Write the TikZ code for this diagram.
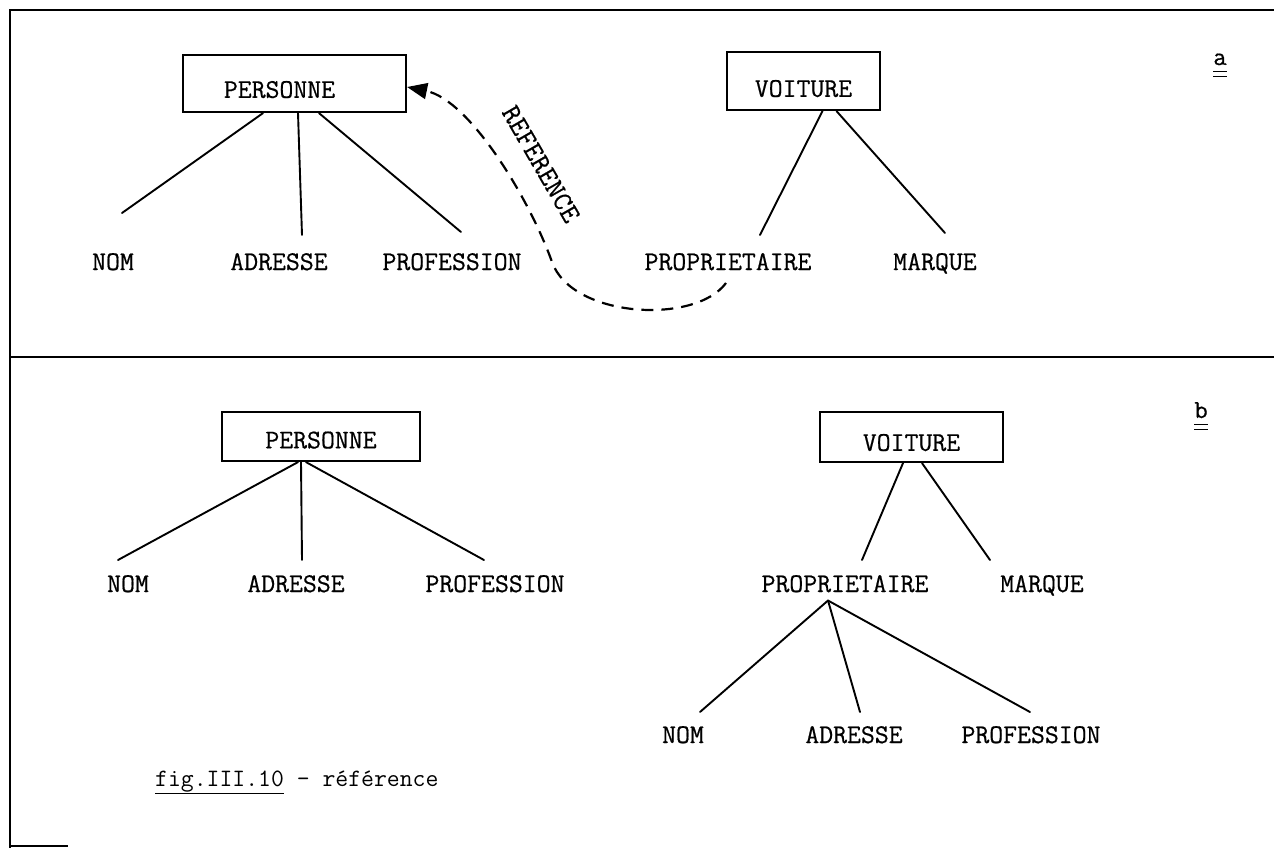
\documentclass[tikz,border=0pt]{standalone}
\usepackage{fontspec}
\newfontfamily\typer{Latin Modern Mono}[FakeBold=0.6]
\usetikzlibrary{arrows.meta}
\begin{document}
\begin{tikzpicture}[x=1pt,y=-1pt,
  tt/.style={font=\fontsize{#1}{#1}\selectfont\typer},
  lbl/.style={tt=27, inner sep=0pt, anchor=base},
  box/.style={draw, line width=2.2pt, rectangle, inner sep=0pt, tt=27},
  branch/.style={line width=1.9pt, line cap=round},
  frame/.style={line width=2.8pt},
  refline/.style={line width=2.2pt, dash pattern=on 12pt off 8pt},
  tag/.style={tt=26, inner sep=0pt, anchor=base},
  tagline/.style={line width=1.6pt}]
\useasboundingbox (0,0) rectangle (1274,848);

% frame and panel divider
\draw[frame] (1274,10) -- (10,10) -- (10,848);
\draw[frame] (10,357) -- (1274,357);
\draw[frame] (10,846) -- (68,846);

% ---------- panel a ----------
\node[box, minimum width=223pt, minimum height=57pt] (persA) at (294.5,83.5)
  {\rule{0pt}{29pt}PERSONNE\hspace*{30pt}};
\node[box, minimum width=153pt, minimum height=58pt] (voitA) at (803.5,81)
  {\rule{0pt}{32pt}VOITURE};

\node[lbl] (nomA)  at (113,270) {NOM};
\node[lbl] (adrA)  at (279,270) {ADRESSE};
\node[lbl] (profA) at (452,270) {PROFESSION};
\node[lbl] (propA) at (728,270) {PROPRIETAIRE};
\node[lbl] (marqA) at (935,270) {MARQUE};

\coordinate (nomAt)  at (122,213);
\coordinate (adrAt)  at (302,235);
\coordinate (profAt) at (461,232);
\coordinate (propAt) at (760,235);
\coordinate (marqAt) at (945,233);

\draw[branch] ([xshift=-31.5pt]persA.south) -- (nomAt);
\draw[branch] ([xshift=3.5pt]persA.south) -- (adrAt);
\draw[branch] ([xshift=24.5pt]persA.south) -- (profAt);
\draw[branch] ([xshift=19pt]voitA.south) -- (propAt);
\draw[branch] ([xshift=33pt]voitA.south) -- (marqAt);

% reference link
\coordinate (refStart) at (726,283);
\draw[refline, -{Triangle[length=20pt,width=16pt]}]
  (refStart) .. controls (695,325) and (572,318) .. (552,262)
             .. controls (530,200) and (470,100) .. ([yshift=-3.5pt]persA.east);
\node[tt=28, inner sep=0pt, rotate=-60] (refLbl) at (541,164) {REFERENCE};

\node[tag] (tagA) at (1220,65) {a};
\draw[tagline] ([yshift=-6pt]tagA.south west) -- ([yshift=-6pt]tagA.south east);
\draw[tagline] ([yshift=-11pt]tagA.south west) -- ([yshift=-11pt]tagA.south east);

% ---------- panel b ----------
\node[box, minimum width=198pt, minimum height=49pt] (persB) at (321,436.5)
  {\rule{0pt}{24pt}PERSONNE};
\node[box, minimum width=183pt, minimum height=50pt] (voitB) at (911.5,437)
  {\rule{0pt}{28pt}VOITURE};

\node[lbl] (nomB)  at (128,592) {NOM};
\node[lbl] (adrB)  at (296,592) {ADRESSE};
\node[lbl] (profB) at (495,592) {PROFESSION};
\node[lbl] (propB) at (845,592) {PROPRIETAIRE};
\node[lbl] (marqB) at (1042,592) {MARQUE};

\coordinate (nomBt)  at (118,560);
\coordinate (adrBt)  at (302,560);
\coordinate (profBt) at (484,560);
\coordinate (propBt) at (862,560);
\coordinate (marqBt) at (990,560);

\draw[branch] ([xshift=-23pt]persB.south) -- (nomBt);
\draw[branch] ([xshift=-20pt]persB.south) -- (adrBt);
\draw[branch] ([xshift=-15pt]persB.south) -- (profBt);
\draw[branch] ([xshift=-8.5pt]voitB.south) -- (propBt);
\draw[branch] ([xshift=10.5pt]voitB.south) -- (marqBt);

\node[lbl] (nomC)  at (683,743) {NOM};
\node[lbl] (adrC)  at (854,743) {ADRESSE};
\node[lbl] (profC) at (1031,743) {PROFESSION};

\coordinate (nomCt)  at (700,712);
\coordinate (adrCt)  at (860,712);
\coordinate (profCt) at (1030,712);

\draw[branch] ([xshift=-17pt,yshift=-8pt]propB.south) -- (nomCt);
\draw[branch] ([xshift=-17pt,yshift=-8pt]propB.south) -- (adrCt);
\draw[branch] ([xshift=-17pt,yshift=-8pt]propB.south) -- (profCt);

\node[tag] (tagB) at (1201,418) {b};
\draw[tagline] ([yshift=-6pt]tagB.south west) -- ([yshift=-6pt]tagB.south east);
\draw[tagline] ([yshift=-11pt]tagB.south west) -- ([yshift=-11pt]tagB.south east);

% caption
\node[font=\fontsize{25}{25}\selectfont\ttfamily, inner sep=0pt, anchor=base west] (caption) at (155,786)
  {\underline{fig.III.10} - référence};
\end{tikzpicture}
\end{document}
